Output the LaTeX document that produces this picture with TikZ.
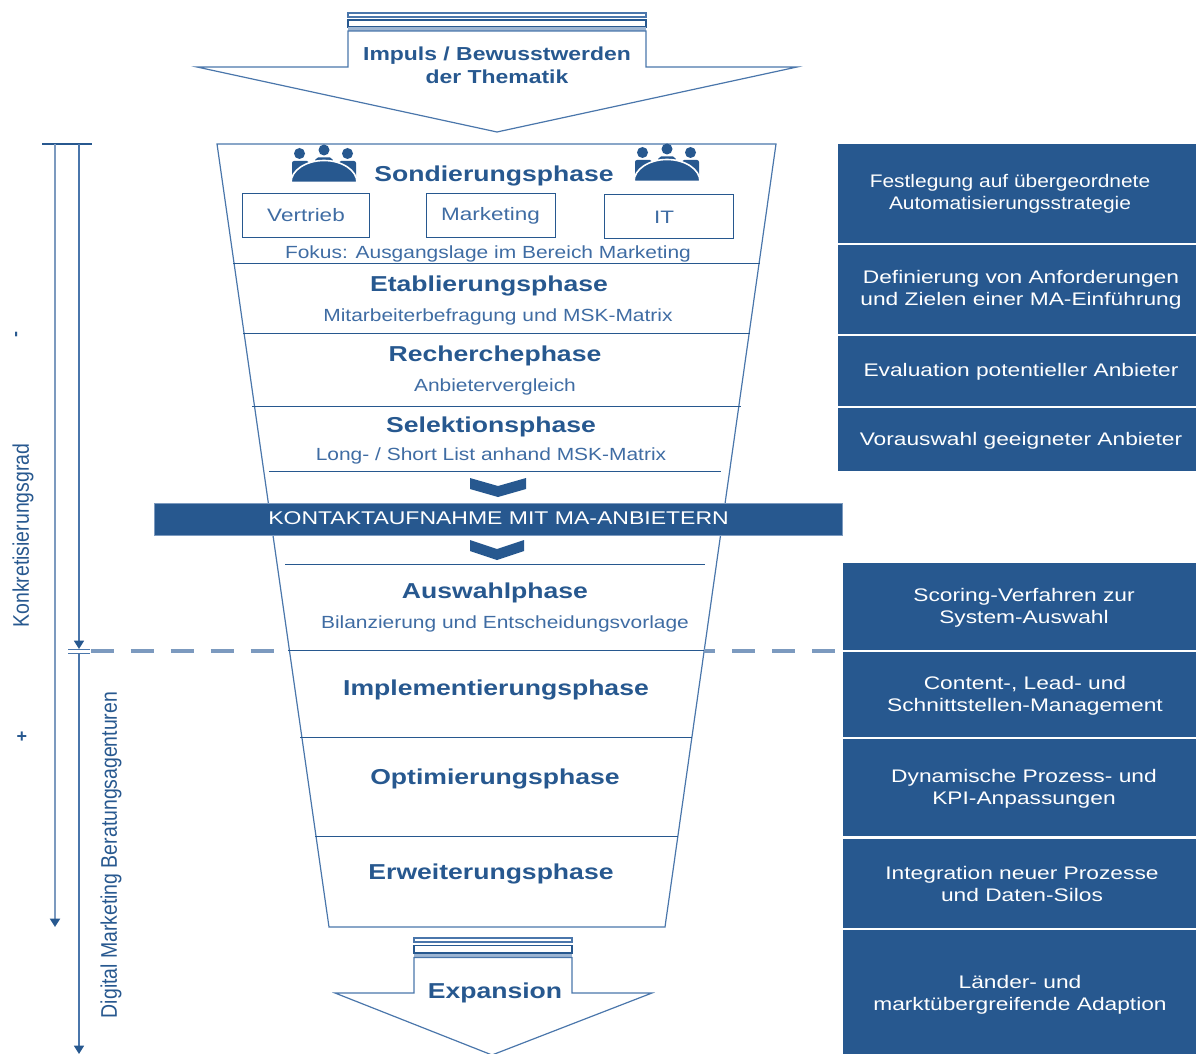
\documentclass[tikz,border=0pt]{standalone}
\usepackage{fontspec}
\setmainfont{Liberation Sans}
\newfontfamily\hdfont[FakeStretch=1.23]{Liberation Sans}
\newfontfamily\imfont[FakeStretch=1.22]{Liberation Sans}
\newfontfamily\subfont[FakeStretch=1.19]{Liberation Sans}
\newfontfamily\panfont[FakeStretch=1.25]{Liberation Sans}
\newfontfamily\panafont[FakeStretch=1.15]{Liberation Sans}
\newfontfamily\narrowfont[FakeStretch=0.86]{Liberation Sans}
\usetikzlibrary{arrows.meta}
\definecolor{mablue}{HTML}{27588F}
\definecolor{subblue}{HTML}{3F6CA3}
\definecolor{dashblue}{HTML}{7C9ABF}
\definecolor{edgeblue}{HTML}{4A76AB}
\definecolor{paleblue}{HTML}{9DB5D2}
\tikzset{
  phase/.style={font=\hdfont\bfseries\fontsize{10.8}{13}\selectfont,text=mablue,inner sep=0pt},
  impuls/.style={font=\imfont\bfseries\fontsize{9.4}{10.6}\selectfont,text=mablue,inner sep=0pt,align=center},
  subtext/.style={font=\subfont\fontsize{8.8}{10.5}\selectfont,text=subblue,inner sep=0pt},
  dept/.style={draw=mablue,line width=0.45pt,inner sep=0pt,minimum height=22pt},
  depttext/.style={font=\panfont\fontsize{9}{11}\selectfont,text=subblue,inner sep=0pt},
  panel/.style={text=white,font=\panfont\fontsize{9.1}{11}\selectfont,align=center,inner sep=0pt,anchor=center},
  panela/.style={panel,font=\panafont\fontsize{9.1}{11}\selectfont},
  divider/.style={draw=mablue,line width=0.5pt},
  outline/.style={draw=edgeblue,line width=0.6pt,line join=miter},
  axis/.style={draw=edgeblue,line width=0.8pt,-{Triangle[length=4.2pt,width=5pt,color=mablue]}},
  axisthick/.style={draw=dashblue,line width=1.3pt,-{Triangle[length=4.2pt,width=5pt,color=mablue]}},
  vlabel/.style={font=\narrowfont\fontsize{11.3}{13}\selectfont,text=mablue,inner sep=0pt,rotate=90},
  sign/.style={font=\bfseries\fontsize{9}{11}\selectfont,text=mablue,inner sep=0pt},
  cut/.style={draw=dashblue,line width=2.2pt,dash pattern=on 11.6pt off 8.4pt},
  chev/.style={fill=mablue,draw=none},
  people/.pic={
    \fill[mablue] (7.5,7.5) circle[radius=5.5] (32,4) circle[radius=5.5] (55.5,7.5) circle[radius=5.5];
    \fill[mablue,rounded corners=1pt] (0,33) -- (0,15) -- (17,15) -- (20,24) -- cycle;
    \fill[mablue,rounded corners=1pt] (22,19) -- (24,11.5) -- (40,11.5) -- (42,19) -- cycle;
    \fill[mablue,rounded corners=1pt] (64,33) -- (64,15) -- (47,15) -- (44,24) -- cycle;
    \path[fill=mablue,draw=white,line width=0.8pt] (-1,36.5) -- (65,36.5) arc[start angle=0,end angle=-180,x radius=33,y radius=22] -- cycle;
  }
}
\begin{document}
\begin{tikzpicture}[x=0.5pt,y=-0.5pt]
\useasboundingbox (0,0) rectangle (1196,1054);
\clip (0,0) rectangle (1196,1054);
% top arrow
\draw[outline] (348,13) rectangle (646,17);
\draw[mablue,line width=0.7pt] (348,20) rectangle (646,27);
\fill[paleblue] (348,27.5) rectangle (646,31);
\draw[outline] (197,67) -- (348,67) -- (348,31) -- (646,31) -- (646,67) -- (797,67) -- (497,132) -- cycle;
\node[impuls] (impulsA) at (497,56) {Impuls / Bewusstwerden};
\node[impuls] (impulsB) at (497,77) {der Thematik};
% funnel
\draw[outline] (217,144) -- (776,144) -- (665,927) -- (329,927) -- cycle;
\draw[divider] (233,264) -- (760,264);
\draw[divider] (243,334) -- (750,334);
\draw[divider] (252,406) -- (741,406);
\draw[divider] (269,471) -- (721,471);
\draw[divider] (285,564) -- (705,564);
\draw[divider] (288,650) -- (704,650);
\draw[divider] (300,737) -- (692,737);
\draw[divider] (315,836) -- (678,836);
% icons
\pic at (292,146) {people};
\pic at (635,145) {people};
% phase labels
\node[phase] (p1) at (494,176) {Sondierungsphase};
\node[dept,minimum width=63.5pt] (d1) at (305.5,215) {};
\node[dept,minimum width=64.5pt] (d2) at (490.5,215) {};
\node[dept,minimum width=64.5pt] (d3) at (668.5,216.5) {};
\node[depttext] (t1) at (306,215) {Vertrieb};
\node[depttext] (t2) at (490.5,216) {Marketing};
\node[depttext] (t3) at (664,217) {IT};
\node[subtext] (s1) at (488,254) {Fokus: Ausgangslage im Bereich Marketing};
\node[phase] (p2) at (489,286) {Etablierungsphase};
\node[subtext] (s2) at (498,317) {Mitarbeiterbefragung und MSK-Matrix};
\node[phase] (p3) at (495,356) {Recherchephase};
\node[subtext] (s3) at (495,387) {Anbietervergleich};
\node[phase] (p4) at (491,427) {Selektionsphase};
\node[subtext] (s4) at (491,456) {Long- / Short List anhand MSK-Matrix};
\node[phase] (p5) at (495,593) {Auswahlphase};
\node[subtext] (s5) at (505,624) {Bilanzierung und Entscheidungsvorlage};
\node[phase] (p6) at (496,690) {Implementierungsphase};
\node[phase] (p7) at (495,779) {Optimierungsphase};
\node[phase] (p8) at (491,874) {Erweiterungsphase};
% chevrons and bar
\fill[chev] (470,478) -- (498,486) -- (526,478) -- (526,489) -- (498,497) -- (470,489) -- cycle;
\node[fill=mablue,draw=dashblue,line width=0.3pt,minimum width=344pt,minimum height=16pt,inner sep=0pt] (bar) at (498,519) {};
\node[text=white,font=\panfont\fontsize{9.2}{11}\selectfont,inner sep=0pt] (bartext) at (498.5,518.5) {KONTAKTAUFNAHME MIT MA-ANBIETERN};
\fill[chev] (470,540) -- (497,549) -- (524,540) -- (524,551) -- (497,560) -- (470,551) -- cycle;
% bottom arrow
\draw[outline] (414,938) rectangle (572,942);
\draw[mablue,line width=0.7pt] (414,945.5) rectangle (572,953);
\fill[paleblue] (414,953.5) rectangle (572,957.5);
\draw[outline] (335,993) -- (414,993) -- (414,957.5) -- (572,957.5) -- (572,993) -- (652,993) -- (492,1055) -- cycle;
\node[phase] (p9) at (495,993) {Expansion};
% right panels
\foreach \xa/\ya/\yb in {838/144/243,838/245/334,838/336/406,838/408/471,843/563/650,843/652/737,843/739/836,843/839/928,843/930/1054}{
  \fill[mablue] (\xa,\ya) rectangle (1196,\yb);
}
\node[panela] (ra) at (1010,194) {Festlegung auf übergeordnete\\Automatisierungsstrategie};
\node[panel] (rb) at (1021,290) {Definierung von Anforderungen\\und Zielen einer MA-Einführung};
\node[panel] (rc) at (1021,372) {Evaluation potentieller Anbieter};
\node[panel] (rd) at (1021,441) {Vorauswahl geeigneter Anbieter};
\node[panel] (re) at (1024,608) {Scoring-Verfahren zur\\System-Auswahl};
\node[panel] (rf) at (1025,696) {Content-, Lead- und\\Schnittstellen-Management};
\node[panel] (rg) at (1024,789) {Dynamische Prozess- und\\KPI-Anpassungen};
\node[panel] (rh) at (1022,884) {Integration neuer Prozesse\\und Daten-Silos};
\node[panel] (ri) at (1020,995) {Länder- und\\marktübergreifende Adaption};
% axes
\coordinate (tickL) at (42,144);
\coordinate (tickR) at (92,144);
\coordinate (a1s) at (55,144);
\coordinate (a1e) at (55,927);
\coordinate (a2s) at (79,144);
\coordinate (a2e) at (79,649);
\coordinate (a3s) at (79,653);
\coordinate (a3e) at (79,1054);
\draw[mablue,line width=0.6pt] (tickL) -- (tickR);
\draw[axisthick] (a1s) -- (a1e);
\draw[axis] (a2s) -- (a2e);
\draw[axis] (a3s) -- (a3e);
\draw[edgeblue,line width=0.4pt] (68,649) -- (90,649) (68,653) -- (90,653);
\coordinate (c1) at (90.5,651);
\coordinate (c2) at (288,651);
\coordinate (c3) at (704,651);
\coordinate (c4) at (838,651);
\draw[cut] (c1) -- (c2);
\draw[cut,dash phase=6pt] (c3) -- (c4);
\node[vlabel] (k) at (23,535.5) {Konkretisierungsgrad};
\node[vlabel] (dm) at (111,855) {Digital Marketing Beratungsagenturen};
\node[sign,rotate=90] (minus) at (18,335) {-};
\node[sign] (plus) at (22,737) {+};
\end{tikzpicture}
\end{document}
